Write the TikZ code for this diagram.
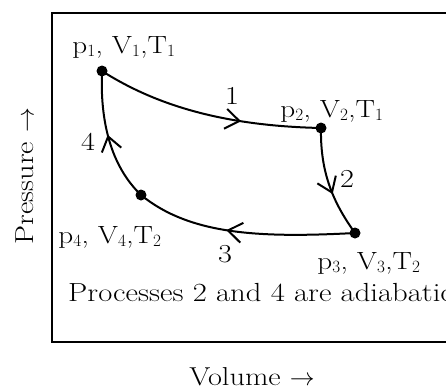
\documentclass[tikz,border=0pt]{standalone}
\usepackage{fontspec}
\setmainfont{Latin Modern Roman}[FakeStretch=1.17]
\usetikzlibrary{arrows.meta,decorations.markings}
\begin{document}
\begin{tikzpicture}[x=1bp,y=-1bp,
  dot/.style={circle,fill=black,inner sep=0pt,minimum size=11bp},
  lbl/.style={font=\fontsize{25}{30}\selectfont,inner sep=0pt,anchor=base},
  num/.style={font=\fontsize{26}{30}\selectfont,inner sep=0pt,anchor=base},
  curve/.style={line width=2bp},
  midarrow/.style={postaction={decorate},decoration={markings,
     mark=at position #1 with {\arrow{Straight Barb[length=14bp,width=20bp,line width=2bp]}}}}]
\useasboundingbox (0,0) rectangle (446,389);
\begin{scope}
\clip (0,0) rectangle (446,389);
\draw[line width=2.6bp] (52,13) -- (500,13) -- (500,342) -- (52,342) -- cycle;
\end{scope}
% state points
\node[dot] (n1) at (102,71) {};
\node[dot] (n2) at (321,128) {};
\node[dot] (n3) at (355,233) {};
\node[dot] (n4) at (141,195) {};
% processes
\draw[curve,midarrow=0.65] (n1.center) .. controls (160,108) and (230,126) .. (n2.center);
\draw[curve,midarrow=0.60] (n2.center) .. controls (320,175) and (335,205) .. (n3.center);
\draw[curve,midarrow=0.58] (n3.center) .. controls (260,238) and (190,235) .. (n4.center);
\draw[curve,midarrow=0.52] (n4.center) .. controls (110,165) and (100,120) .. (n1.center);
% labels
\node[lbl] (l1) at (124,53) {p$_1$, V$_1$,T$_1$};
\node[lbl] (l2) at (332,117) {p$_2$, V$_2$,T$_1$};
\node[lbl] (l4) at (110,243) {p$_4$, V$_4$,T$_2$};
\node[lbl] (l3) at (369,269) {p$_3$, V$_3$,T$_2$};
\node[num] (k1) at (232,104) {1};
\node[num] (k2) at (347,187) {2};
\node[num] (k3) at (225,262) {3};
\node[num] (k4) at (88,150) {4};
\node[font=\fontsize{26.3}{30}\selectfont,inner sep=0pt,anchor=base west] (note) at (68,301) {Processes 2 and 4 are adiabatic};
\node[lbl,font=\fontsize{26}{30}\selectfont] (vol) at (252,385) {Volume $\rightarrow$};
\node[lbl,font=\fontsize{26}{30}\selectfont,rotate=90,anchor=center] (pre) at (25,176) {Pressure $\rightarrow$};
\end{tikzpicture}
\end{document}
